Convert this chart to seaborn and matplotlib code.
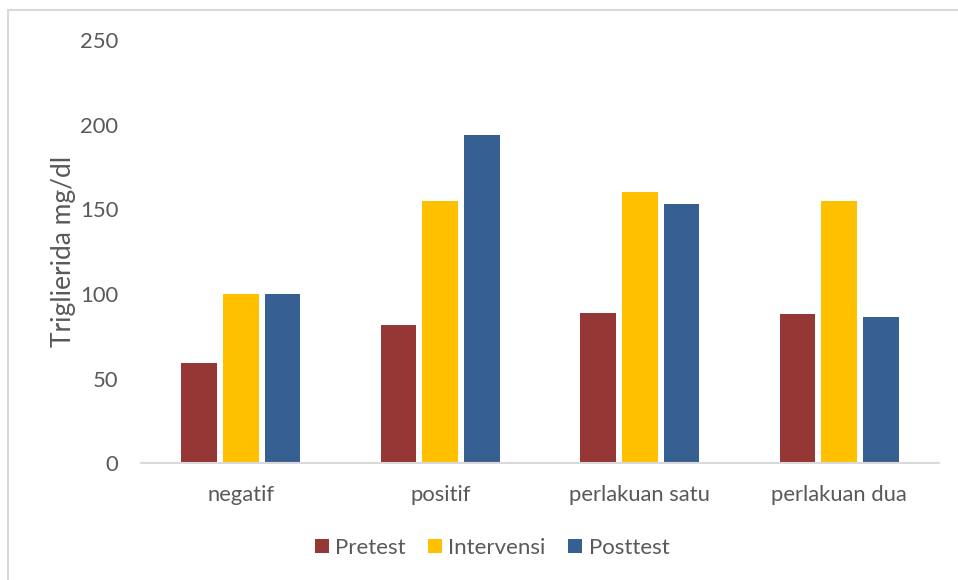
import matplotlib
matplotlib.use("Agg")
import matplotlib.pyplot as plt
import seaborn as sns
import pandas as pd
from matplotlib.patches import Rectangle

categories = ["negatif", "positif", "perlakuan satu", "perlakuan dua"]
series = ["Pretest", "Intervensi", "Posttest"]
pretest = [59.3, 81.8, 88.9, 88.3]
intervensi = [99.8, 154.9, 160.2, 154.9]
posttest = [100.0, 193.6, 153.3, 86.5]
y_ticks = [0, 50, 100, 150, 200, 250]

rows = []
for s, vals in zip(series, [pretest, intervensi, posttest]):
    for c, v in zip(categories, vals):
        rows.append({"kategori": c, "seri": s, "nilai": v})
df = pd.DataFrame(rows)

sns.set_theme(style="white")
plt.rcParams["font.family"] = ["Lato", "DejaVu Sans"]

colors = {"Pretest": "#953735", "Intervensi": "#FFC000", "Posttest": "#376092"}
txt = "#595959"

fig = plt.figure(figsize=(9.58, 5.8), dpi=100)
ax = fig.add_axes([141/958, 1-463.3/580, (939-141)/958, (463.3-40)/580])

sns.barplot(data=df, x="kategori", y="nilai", hue="seri", order=categories,
            hue_order=series, palette=colors, width=0.63, gap=0.15,
            saturation=1, ax=ax, legend=True, edgecolor="none")

ax.set_ylim(0, 250)
ax.set_xlim(-0.5, 3.5)
ax.set_yticks(y_ticks)
ax.set_yticklabels([str(t) for t in y_ticks])
ax.tick_params(axis="both", length=0, colors=txt, labelsize=15.8)
ax.tick_params(axis="y", pad=16.5)
ax.tick_params(axis="x", pad=15.5)
ax.set_xlabel("")
ax.set_ylabel("Triglierida mg/dl", color=txt, fontsize=19, labelpad=3)
for side in ["top", "right", "left"]:
    ax.spines[side].set_visible(False)
ax.spines["bottom"].set_color("#D9D9D9")
ax.spines["bottom"].set_linewidth(1.5)
ax.grid(False)

handles, labels = ax.get_legend_handles_labels()
ax.legend(handles, labels, loc="center", bbox_to_anchor=(492/958, 1-548/580),
          bbox_transform=fig.transFigure, ncol=3, frameon=False,
          fontsize=16, handlelength=0.62, handleheight=0.62,
          handletextpad=0.3, columnspacing=1.0, labelcolor=txt)

fig.patches.append(Rectangle((8/958, -0.1), 1.2, 1 - 10/580 + 0.1,
                             transform=fig.transFigure, fill=False,
                             edgecolor="#D9D9D9", linewidth=1.5, zorder=0))

fig.savefig("out.png", dpi=100)
